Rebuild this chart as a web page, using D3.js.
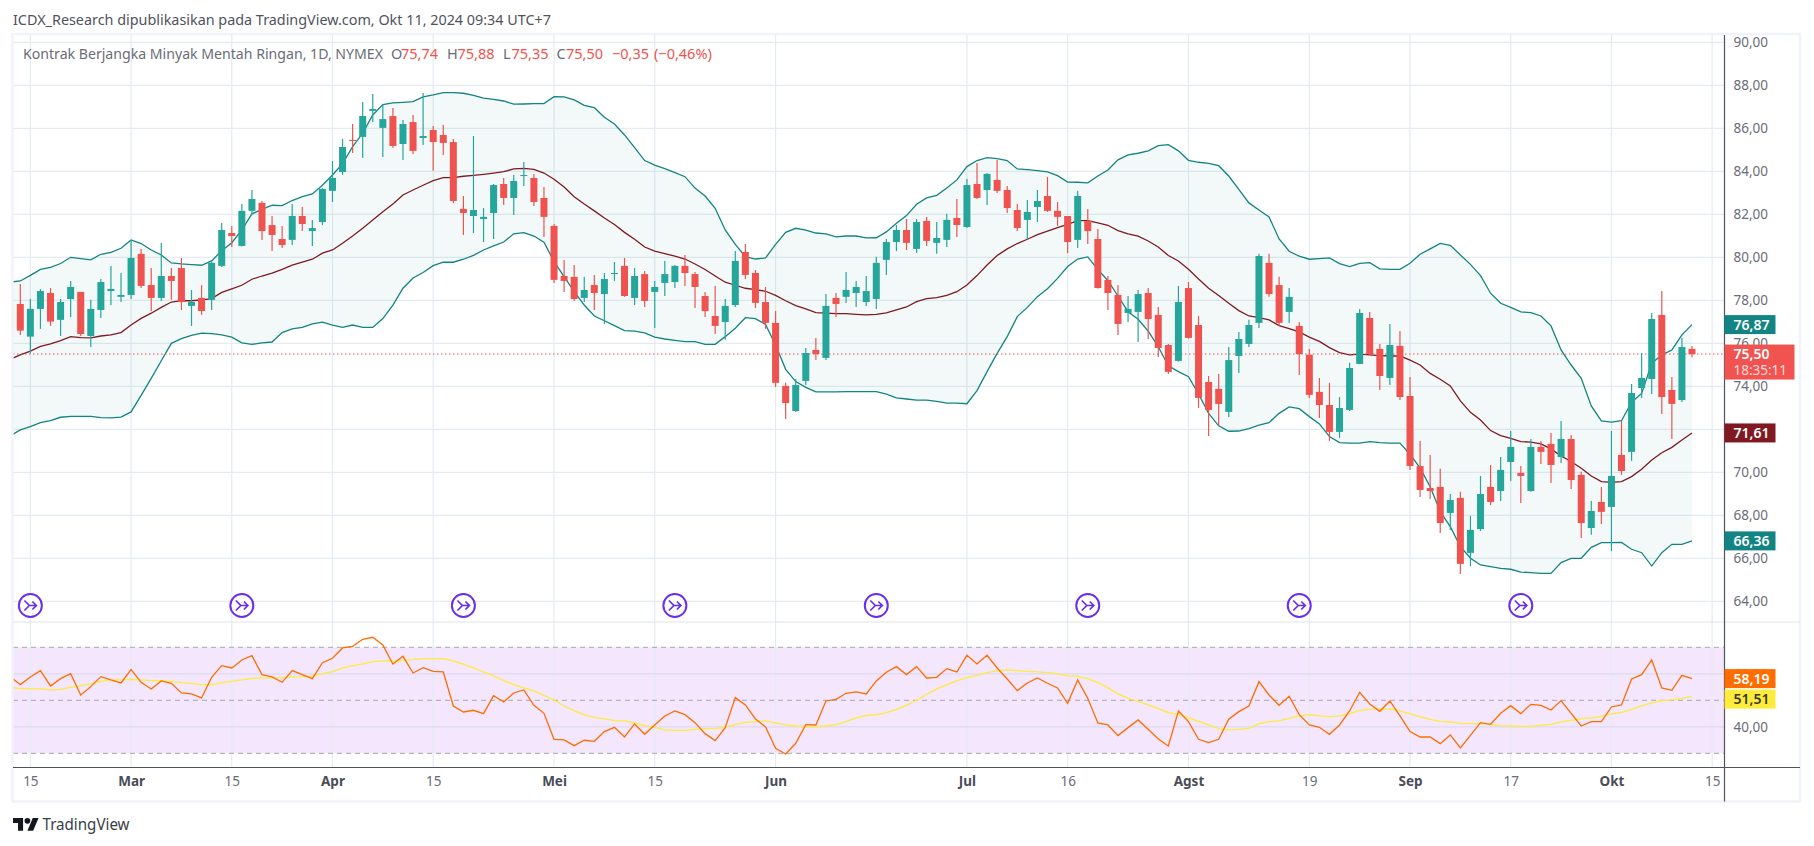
<!DOCTYPE html>
<html>
<head>
<meta charset="utf-8">
<script src="https://cdn.jsdelivr.net/npm/d3@7"></script>
<style>
  html, body { margin: 0; padding: 0; background: #fff; overflow: hidden; }
  svg { display: block; font-family: "Noto Sans", sans-serif; }
</style>
</head>
<body>
<svg id="chart" width="1814" height="846"></svg>
<script>
// daily candles, bar index 0 = 14 Feb 2024
const open = [77.83,76.31,77.60,78.34,77.09,78.06,78.39,76.34,77.55,78.43,78.16,78.25,80.16,78.71,78.11,79.13,79.50,77.74,78.11,78.02,79.60,81.13,80.53,82.16,82.53,81.50,80.85,80.81,81.92,81.22,81.64,83.09,83.97,85.46,85.60,86.81,86.02,86.57,85.27,86.29,85.55,85.92,85.69,85.36,82.25,81.92,81.78,82.06,83.41,82.76,83.78,83.69,82.76,81.46,79.13,79.09,78.11,78.71,78.29,79.22,79.60,78.11,79.22,78.39,78.81,78.85,79.60,79.22,78.20,77.27,76.99,77.78,80.25,79.27,77.92,76.95,74.02,72.85,74.25,75.69,75.32,78.11,78.16,78.34,77.92,78.06,79.88,80.71,81.27,80.39,81.69,80.67,80.81,81.83,81.41,83.41,83.13,83.60,83.13,82.20,81.74,82.34,82.85,82.16,81.92,80.81,81.69,80.85,78.95,78.25,77.41,77.46,78.34,77.32,75.92,75.18,78.57,76.85,74.20,73.88,72.81,75.41,75.97,76.95,79.74,78.71,77.46,76.81,75.47,73.74,73.13,71.88,72.90,75.04,77.18,75.74,74.39,75.88,73.55,70.29,69.27,69.32,68.11,68.81,66.25,67.36,69.32,69.13,70.48,69.97,69.13,71.18,71.32,70.71,71.55,69.88,67.41,68.62,68.39,70.81,70.95,73.92,74.34,77.32,73.83,73.36,75.74];
const high = [78.76,78.06,78.53,78.57,78.06,78.90,78.39,78.02,78.99,79.60,79.27,80.81,80.39,79.50,80.67,79.50,79.97,78.48,78.71,79.78,81.60,81.46,82.48,83.13,82.62,81.92,81.46,82.48,82.34,81.74,83.22,84.48,85.50,86.20,87.22,87.60,87.09,86.95,86.39,86.62,87.64,86.11,86.16,85.50,82.85,85.64,82.29,83.41,83.69,83.83,84.43,83.88,83.27,81.55,79.88,79.64,79.09,79.18,79.27,79.78,79.97,79.50,79.36,78.90,79.83,79.64,80.11,79.32,78.39,78.67,78.06,80.29,80.62,79.41,78.62,77.50,74.16,74.34,75.78,76.25,78.29,78.34,79.32,78.90,79.13,80.02,80.85,81.50,81.78,81.78,81.88,81.64,82.02,82.71,83.64,84.39,83.92,84.53,83.32,82.48,82.67,83.13,83.74,82.57,81.92,83.09,82.25,81.32,79.13,78.71,78.20,78.48,78.57,77.69,75.97,78.67,78.85,77.27,74.48,74.57,75.83,76.53,77.09,80.16,80.16,79.09,78.57,76.99,75.74,74.39,74.16,73.50,75.09,77.60,77.46,75.97,76.90,76.57,74.43,71.46,70.81,70.16,68.99,69.09,67.97,69.83,70.34,70.71,71.92,70.29,71.55,71.46,71.83,72.39,71.74,70.02,68.67,69.32,71.92,72.39,74.11,75.55,77.41,78.43,74.43,76.25,75.88];
const low = [76.39,75.53,76.67,76.81,76.34,77.22,76.34,75.83,77.18,77.78,77.92,78.06,78.57,77.50,77.97,78.02,77.55,76.81,77.32,77.55,79.55,80.48,80.50,81.97,80.81,80.29,80.43,80.57,81.22,80.53,81.50,82.57,83.83,84.85,84.62,86.29,84.67,85.09,84.53,84.81,85.22,84.02,84.76,82.53,81.04,81.13,80.71,80.85,82.43,81.97,83.32,82.39,80.95,78.81,78.39,77.97,77.92,77.55,76.90,78.90,78.16,77.78,77.69,76.71,78.20,78.57,78.67,77.64,77.22,76.43,76.16,77.69,78.99,77.64,76.67,73.97,72.48,72.81,74.06,75.22,75.22,77.22,77.88,77.69,77.74,77.60,79.18,80.29,80.34,80.20,80.53,80.16,80.48,80.95,81.36,82.71,82.43,82.99,82.06,81.22,80.84,81.64,82.11,81.46,80.20,80.43,80.62,78.55,77.55,76.39,76.99,76.06,76.20,75.36,74.57,75.15,76.22,72.99,71.69,72.16,72.57,74.62,75.83,76.71,78.16,76.81,76.95,74.53,73.46,72.53,71.46,71.60,72.85,75.02,75.46,73.83,74.06,73.36,70.11,68.85,68.76,67.18,67.32,65.27,65.64,67.27,68.48,68.67,69.60,68.57,69.10,70.39,69.50,70.43,69.22,66.95,67.09,67.60,66.34,69.88,70.53,73.46,73.64,72.71,71.55,73.27,75.35];
const close = [76.59,77.60,78.43,77.01,77.92,78.62,76.43,77.60,78.85,78.53,78.25,79.97,78.67,78.11,79.13,78.90,77.92,77.92,77.50,79.74,81.27,80.99,82.16,82.71,81.22,81.04,80.57,81.92,81.55,81.36,83.18,83.69,85.13,85.41,86.57,86.90,86.43,85.18,86.20,84.95,85.64,85.36,85.32,82.62,82.06,82.20,81.88,83.36,82.76,83.55,83.83,82.57,81.88,78.95,78.90,78.06,78.48,78.34,78.99,79.27,78.20,79.13,77.97,78.62,79.22,79.60,79.27,78.62,77.50,76.81,77.74,79.83,79.18,77.88,76.95,74.16,73.22,74.06,75.55,75.50,77.74,77.83,78.48,78.62,78.43,79.74,80.71,81.27,80.67,81.64,80.76,80.90,81.74,81.50,83.36,82.76,83.88,83.09,82.29,81.36,82.11,82.62,82.16,81.88,80.71,82.85,81.22,78.57,78.34,76.90,77.60,78.29,77.13,75.78,74.67,77.92,76.25,73.46,72.90,73.18,75.22,76.20,76.85,80.06,78.29,76.95,78.16,75.50,73.60,73.13,71.88,72.99,74.85,77.41,75.50,74.48,75.92,73.50,70.29,69.18,69.13,67.64,68.71,65.74,67.32,68.99,68.62,70.11,71.18,69.83,71.18,70.95,70.34,71.55,69.64,67.64,68.20,68.16,69.83,70.06,73.69,74.39,77.13,73.50,73.18,75.83,75.50];

// bollinger bands, first value belongs to the bar before index 0
const bbUpper = [78.85,78.90,79.16,79.44,79.53,79.71,80.00,79.94,79.88,80.14,80.23,80.42,80.81,80.64,80.34,80.11,79.74,79.69,79.66,79.63,79.83,80.31,80.68,81.27,82.02,82.23,82.42,82.40,82.64,82.82,82.95,83.35,83.83,84.36,85.15,85.77,86.62,87.10,87.18,87.21,87.24,87.46,87.55,87.66,87.66,87.63,87.53,87.40,87.35,87.27,87.12,87.13,87.15,87.15,87.47,87.46,87.32,87.07,86.96,86.51,86.20,85.69,85.10,84.50,84.29,84.12,83.94,83.75,83.22,82.85,82.28,81.27,80.60,80.03,79.92,79.97,80.60,81.16,81.35,81.26,81.13,81.09,80.95,80.99,80.99,80.90,80.91,81.18,81.58,81.94,82.47,82.76,82.88,83.22,83.60,84.22,84.50,84.64,84.59,84.50,84.11,84.08,84.03,83.97,83.80,83.50,83.49,83.46,83.78,84.06,84.53,84.76,84.84,84.95,85.19,85.24,84.95,84.51,84.42,84.37,84.26,83.78,83.16,82.53,82.20,81.88,80.85,80.28,80.05,79.91,79.94,79.97,79.71,79.57,79.72,79.75,79.46,79.44,79.44,79.72,80.14,80.39,80.65,80.56,80.11,79.67,79.15,78.33,77.86,77.67,77.46,77.43,77.27,76.81,75.69,74.99,74.37,73.09,72.39,72.33,72.40,73.26,73.67,75.07,75.46,75.69,76.39,76.87];
const bbBasis = [75.26,75.46,75.64,75.86,75.97,76.12,76.31,76.26,76.25,76.34,76.39,76.50,76.85,77.16,77.40,77.67,77.92,77.98,77.98,78.02,78.08,78.37,78.53,78.70,78.98,79.13,79.26,79.44,79.64,79.78,79.91,80.19,80.34,80.65,80.99,81.35,81.74,82.12,82.48,82.90,83.13,83.35,83.57,83.71,83.71,83.77,83.81,83.86,83.92,83.98,84.11,84.14,84.09,83.92,83.63,83.27,82.82,82.48,82.16,81.83,81.53,81.16,80.84,80.48,80.29,80.17,80.05,79.92,79.69,79.43,79.13,78.84,78.70,78.56,78.50,78.42,78.23,77.98,77.75,77.60,77.43,77.40,77.38,77.38,77.35,77.32,77.35,77.41,77.55,77.69,77.94,78.08,78.12,78.23,78.40,78.71,79.15,79.64,80.08,80.39,80.64,80.84,81.05,81.22,81.38,81.53,81.71,81.71,81.60,81.49,81.24,81.09,80.98,80.76,80.48,80.08,79.83,79.44,78.99,78.56,78.22,77.86,77.52,77.27,77.19,77.09,76.82,76.68,76.53,76.29,76.09,75.80,75.57,75.46,75.50,75.46,75.43,75.41,75.41,75.22,74.99,74.60,74.33,74.02,73.32,72.79,72.43,71.94,71.71,71.58,71.43,71.40,71.32,71.09,70.76,70.50,70.19,69.83,69.57,69.53,69.57,69.80,70.14,70.57,70.91,71.16,71.50,71.83];
const bbLower = [71.69,71.97,72.12,72.31,72.40,72.56,72.60,72.60,72.60,72.54,72.53,72.57,72.81,73.58,74.37,75.19,76.00,76.22,76.37,76.47,76.45,76.39,76.29,76.02,75.95,76.02,76.06,76.50,76.67,76.74,76.90,76.98,76.85,76.74,76.85,76.74,76.74,77.15,77.78,78.56,79.04,79.29,79.61,79.77,79.77,79.91,80.09,80.34,80.53,80.71,81.09,81.15,80.99,80.70,79.80,79.10,78.40,77.78,77.27,77.05,76.82,76.59,76.57,76.48,76.29,76.20,76.14,76.08,76.08,75.95,75.95,76.31,76.70,77.19,77.15,76.88,75.92,74.79,74.22,73.95,73.74,73.74,73.74,73.75,73.75,73.75,73.75,73.64,73.46,73.41,73.36,73.36,73.30,73.22,73.22,73.19,73.80,74.68,75.53,76.31,77.24,77.67,78.17,78.54,79.02,79.57,79.92,80.02,79.44,78.91,78.20,77.47,77.12,76.57,75.84,74.95,74.68,74.45,73.64,72.74,72.16,71.91,71.92,72.03,72.19,72.31,72.74,73.04,72.96,72.59,72.25,71.66,71.38,71.36,71.36,71.43,71.38,71.36,71.36,70.84,70.19,69.33,68.17,67.47,66.54,66.00,65.69,65.61,65.53,65.49,65.36,65.33,65.30,65.30,65.80,66.00,66.00,66.51,66.73,66.73,66.74,66.42,66.26,65.64,66.26,66.65,66.65,66.81];

// rsi and its moving average, same leading value as the bands
const rsiLine = [58.93,55.91,58.81,61.19,55.41,58.18,60.06,52.01,55.16,58.93,57.67,56.54,61.57,56.79,54.28,57.30,56.42,52.77,52.39,50.88,58.68,63.08,62.20,65.22,66.86,59.69,58.81,56.79,61.19,59.69,58.18,64.21,65.85,69.75,70.38,73.02,73.77,70.88,63.71,66.60,60.31,62.33,60.94,60.69,47.86,45.60,46.23,44.97,51.76,49.37,52.77,53.90,48.11,45.09,35.28,35.03,32.89,34.91,34.53,38.18,39.81,36.16,41.07,37.17,40.69,44.09,45.97,44.59,41.57,37.42,34.78,39.69,51.01,48.24,42.96,39.94,31.89,29.75,33.77,40.82,40.69,49.75,50.38,52.64,53.14,52.39,57.30,60.57,62.70,59.69,62.70,58.43,58.68,61.95,60.69,66.98,63.71,66.98,62.20,58.05,53.65,56.54,58.43,56.42,54.65,48.87,57.67,50.75,41.45,40.69,36.67,39.69,42.58,39.06,35.41,32.77,45.97,41.95,35.28,34.03,35.28,42.83,45.72,47.86,57.04,52.01,48.11,51.51,44.59,40.69,39.81,37.17,40.69,45.97,53.02,48.62,45.85,49.75,44.09,38.18,36.16,36.16,33.65,36.92,32.01,36.79,41.57,40.94,45.09,47.99,44.97,48.49,48.11,46.35,49.87,45.09,40.31,41.95,41.95,47.48,48.24,58.05,59.69,65.22,54.65,53.77,59.43,58.19];
const rsiMa = [54.78,54.53,54.28,54.28,53.90,54.15,54.91,55.53,56.16,57.17,57.67,57.67,57.92,57.67,57.42,57.42,57.17,56.67,56.42,55.91,55.91,56.67,57.17,57.67,58.30,58.43,58.43,58.55,58.81,58.93,59.18,59.94,60.82,62.20,62.96,63.71,64.59,64.84,64.84,65.09,65.35,65.72,65.72,65.72,64.84,63.58,62.33,60.69,59.18,57.55,55.91,54.65,53.52,51.89,50.13,47.86,46.10,44.47,43.58,42.96,42.33,42.20,41.45,40.44,39.81,38.81,38.68,38.68,39.06,39.31,39.43,39.81,40.94,41.70,41.95,42.20,41.45,40.69,40.31,40.06,40.06,40.31,40.82,41.95,43.33,44.21,44.59,45.35,46.60,48.11,50.00,52.26,54.28,55.79,57.30,58.55,59.43,60.44,61.19,61.45,61.19,60.94,60.69,60.44,59.94,59.18,59.06,58.18,56.67,54.78,52.39,50.75,49.62,48.24,46.98,45.35,44.72,43.33,42.08,40.69,39.18,38.81,39.06,39.43,41.19,41.95,42.20,43.21,44.09,44.47,44.09,43.84,44.09,44.97,46.23,46.60,46.73,46.73,45.97,44.84,43.84,42.83,42.08,41.82,41.32,41.19,41.19,40.82,40.44,40.31,40.19,40.19,40.57,40.94,41.82,42.45,43.08,43.33,43.96,44.84,45.47,46.60,47.86,49.00,49.87,50.13,50.75,51.51];

const priceTicks = [64,66,68,70,72,74,76,78,80,82,84,86,88,90];
const rsiGridTicks = [40,60];
const rsiDashTicks = [30,50,70];
const timeTickBars = [1,11,21,31,41,53,63,75,94,104,116,128,138,148,158,168];
const timeTickLabels = ["15","Mar","15","Apr","15","Mei","15","Jun","Jul","16","Agst","19","Sep","17","Okt","15"];
const monthLabels = ["Mar","Apr","Mei","Jun","Jul","Agst","Sep","Okt"];
const splitBars = [1,22,44,65,85,106,127,149];

const lastPrice = 75.50;
const green = "#26a69a", red = "#ef5350", bandColor = "#138484", basisColor = "#801922";
const gridColor = "#e4ebf1", textColor = "#6a6d78";

const svg = d3.select("#chart");
const paneLeft = 13, paneRight = 1724.5, paneTop = 35, mainBottom = 622, rsiBottom = 767.5, frameRight = 1800, frameBottom = 801.5;

const x = d3.scaleLinear().domain([0, 166]).range([20.3, 1692]);
const y = d3.scaleLinear().domain([64, 90]).range([601.3, 42.3]);
const rsiY = d3.scaleLinear().domain([30, 70]).range([753.3, 647.3]);
const comma = v => d3.format(".2f")(v).replace(".", ",");

svg.append("clipPath").attr("id", "mainClip").append("rect")
  .attr("x", paneLeft).attr("y", paneTop).attr("width", paneRight - paneLeft).attr("height", mainBottom - paneTop);
svg.append("clipPath").attr("id", "rsiClip").append("rect")
  .attr("x", paneLeft).attr("y", mainBottom).attr("width", paneRight - paneLeft).attr("height", rsiBottom - mainBottom);

//rsi background first so the grid sits on top of it
svg.append("rect")
  .attr("x", paneLeft).attr("width", paneRight - paneLeft)
  .attr("y", rsiY(70)).attr("height", rsiY(30) - rsiY(70))
  .attr("fill", "#f3e6fd");

//grid
const grid = svg.append("g");
grid.selectAll(".v").data(timeTickBars).join("line")
  .attr("x1", d => x(d)).attr("x2", d => x(d))
  .attr("y1", paneTop).attr("y2", rsiBottom)
  .attr("stroke", gridColor).attr("stroke-width", 1.2);
grid.selectAll(".h").data(priceTicks).join("line")
  .attr("x1", paneLeft).attr("x2", paneRight)
  .attr("y1", d => y(d)).attr("y2", d => y(d))
  .attr("stroke", gridColor).attr("stroke-width", 1.2);
grid.selectAll(".r").data(rsiGridTicks).join("line")
  .attr("x1", paneLeft).attr("x2", paneRight)
  .attr("y1", d => rsiY(d)).attr("y2", d => rsiY(d))
  .attr("stroke", "#dcd9f0").attr("stroke-width", 1.2);
grid.selectAll(".d").data(rsiDashTicks).join("line")
  .attr("x1", paneLeft).attr("x2", paneRight)
  .attr("y1", d => rsiY(d)).attr("y2", d => rsiY(d))
  .attr("stroke", "#a9a6b2").attr("stroke-width", 1).attr("stroke-dasharray", "5 4");

//bollinger area and lines
const band = svg.append("g").attr("clip-path", "url(#mainClip)");
const area = d3.area()
  .x((d, i) => x(i - 1))
  .y0((d, i) => y(bbLower[i]))
  .y1(d => y(d));
band.append("path").datum(bbUpper).attr("d", area).attr("fill", bandColor).attr("fill-opacity", 0.05);

const bandLine = d3.line().x((d, i) => x(i - 1)).y(d => y(d));
[[bbUpper, bandColor], [bbLower, bandColor], [bbBasis, basisColor]].forEach(([vals, col]) => {
  band.append("path").datum(vals).attr("d", bandLine)
    .attr("fill", "none").attr("stroke", col).attr("stroke-width", 1.3);
});

//last price line
svg.append("line")
  .attr("x1", paneLeft).attr("x2", paneRight)
  .attr("y1", y(lastPrice)).attr("y2", y(lastPrice))
  .attr("stroke", red).attr("stroke-width", 1).attr("stroke-dasharray", "1.5 2.5");

//candles
const bars = svg.append("g").selectAll("g").data(d3.range(open.length)).join("g")
  .attr("fill", i => close[i] >= open[i] ? green : red)
  .attr("stroke", i => close[i] >= open[i] ? green : red);
bars.append("line")
  .attr("x1", i => x(i)).attr("x2", i => x(i))
  .attr("y1", i => y(high[i])).attr("y2", i => y(low[i]))
  .attr("stroke-width", 1.2);
bars.append("rect")
  .attr("x", i => x(i) - 3.5).attr("width", 7)
  .attr("y", i => y(Math.max(open[i], close[i])))
  .attr("height", i => Math.max(1, Math.abs(y(open[i]) - y(close[i]))))
  .attr("stroke", "none");

//split markers
const splitG = svg.append("g").selectAll("g").data(splitBars).join("g")
  .attr("transform", d => `translate(${x(d)},605.5)`)
  .attr("fill", "none").attr("stroke", "#6a2cf0");
splitG.append("circle").attr("r", 11.5).attr("fill", "#fff").attr("stroke-width", 2);
splitG.append("path").attr("d", "M-6,-5 L-1,0 L-6,5 M-1,0 L6,0 M2,-4 L6,0 L2,4")
  .attr("stroke-width", 1.7);

//rsi lines
const rsiG = svg.append("g").attr("clip-path", "url(#rsiClip)");
const rsiPath = d3.line().x((d, i) => x(i - 1)).y(d => rsiY(d));
rsiG.append("path").datum(rsiMa).attr("d", rsiPath)
  .attr("fill", "none").attr("stroke", "#ffeb3b").attr("stroke-width", 1.3);
rsiG.append("path").datum(rsiLine).attr("d", rsiPath)
  .attr("fill", "none").attr("stroke", "#ff6d00").attr("stroke-width", 1.3);

//axes
const priceAxis = svg.append("g").attr("transform", `translate(${paneRight},0)`)
  .call(d3.axisRight(y).tickValues(priceTicks).tickFormat(comma).tickSize(0).tickPadding(9));
const rsiAxis = svg.append("g").attr("transform", `translate(${paneRight},0)`)
  .call(d3.axisRight(rsiY).tickValues(rsiGridTicks).tickFormat(comma).tickSize(0).tickPadding(9));
const timeAxis = svg.append("g").attr("transform", `translate(0,${rsiBottom})`)
  .call(d3.axisBottom(x).tickValues(timeTickBars)
    .tickFormat((d, i) => timeTickLabels[i]).tickSize(0).tickPadding(9));
[priceAxis, rsiAxis, timeAxis].forEach(a => {
  a.select(".domain").remove();
  a.selectAll("text").attr("fill", textColor)
    .style("font-family", '"Noto Sans", sans-serif').style("font-size", "13.5px");
});
timeAxis.selectAll("text")
  .style("font-weight", (d, i) => monthLabels.includes(timeTickLabels[i]) ? 700 : 400)
  .attr("fill", (d, i) => monthLabels.includes(timeTickLabels[i]) ? "#4a4d58" : textColor);

//frame and axis lines
svg.append("rect").attr("x", 12.5).attr("y", 34).attr("width", frameRight - 12.5).attr("height", frameBottom - 34)
  .attr("fill", "none").attr("stroke", "#f0f3fa").attr("stroke-width", 2.4);
svg.append("line").attr("x1", paneLeft).attr("x2", frameRight).attr("y1", mainBottom).attr("y2", mainBottom)
  .attr("stroke", "#e0e3eb").attr("stroke-width", 1.2);
svg.append("line").attr("x1", paneLeft).attr("x2", frameRight).attr("y1", rsiBottom).attr("y2", rsiBottom)
  .attr("stroke", "#50535e").attr("stroke-width", 1.2);
svg.append("line").attr("x1", paneRight).attr("x2", paneRight).attr("y1", paneTop).attr("y2", frameBottom)
  .attr("stroke", "#50535e").attr("stroke-width", 1.2);

//value tags on the price scale
function valueTag(text, cy, fill, color, w) {
  svg.append("rect").attr("x", paneRight).attr("y", cy - 9.5).attr("width", w || 51).attr("height", 19)
    .attr("fill", fill);
  svg.append("text").attr("x", paneRight + 9).attr("y", cy + 5)
    .attr("fill", color).attr("font-size", 14).attr("font-weight", 600).text(text);
}
valueTag("76,87", y(bbUpper[bbUpper.length - 1]), bandColor, "#fff");
valueTag("71,61", y(bbBasis[bbBasis.length - 1]), basisColor, "#fff");
valueTag("66,36", y(bbLower[bbLower.length - 1]), bandColor, "#fff");
const rsiTagY = rsiY(rsiLine[rsiLine.length - 1]);
valueTag("58,19", rsiTagY, "#ff6d00", "#fff");
valueTag("51,51", Math.max(rsiY(rsiMa[rsiMa.length - 1]), rsiTagY + 20.5), "#ffeb3b", "#3a3a20");

//last price tag with the countdown
const priceTag = svg.append("g");
priceTag.append("rect").attr("x", paneRight).attr("y", y(lastPrice) - 9.5).attr("width", 70).attr("height", 35)
  .attr("fill", "#f05350");
priceTag.append("text").attr("x", paneRight + 9).attr("y", y(lastPrice) + 5)
  .attr("fill", "#fff").attr("font-size", 14).attr("font-weight", 600).text(comma(lastPrice));
priceTag.append("text").attr("x", paneRight + 9).attr("y", y(lastPrice) + 21)
  .attr("fill", "#ffd9d8").attr("font-size", 13.5).text("18:35:11");

//top texts
svg.append("text").attr("x", 13).attr("y", 25).attr("fill", "#50535e").attr("font-size", 15)
  .attr("textLength", 538).attr("lengthAdjust", "spacingAndGlyphs")
  .text("ICDX_Research dipublikasikan pada TradingView.com, Okt 11, 2024 09:34 UTC+7");
svg.append("text").attr("x", 23).attr("y", 59).attr("fill", textColor).attr("font-size", 14.5)
  .attr("textLength", 360).attr("lengthAdjust", "spacingAndGlyphs")
  .text("Kontrak Berjangka Minyak Mentah Ringan, 1D, NYMEX");

const legendParts = [
  ["O", 391, textColor], ["75,74", 401, red],
  ["H", 447, textColor], ["75,88", 457.5, red],
  ["L", 503, textColor], ["75,35", 511.5, red],
  ["C", 556.5, textColor], ["75,50", 566, red],
  ["\u22120,35", 612, red], ["(\u22120,46%)", 654, red]
];
svg.append("g").selectAll("text").data(legendParts).join("text")
  .attr("x", d => d[1]).attr("y", 59).attr("fill", d => d[2]).attr("font-size", 14.5)
  .text(d => d[0]);

//tradingview mark
const logo = svg.append("g").attr("transform", "translate(13,815) scale(0.72)").attr("fill", "#131722");
logo.append("path").attr("d", "M14 22H7V11H0V4h14v18zM28 22h-8l7.5-18h8L28 22z");
logo.append("circle").attr("cx", 20).attr("cy", 8).attr("r", 4);
svg.append("text").attr("x", 42.5).attr("y", 830).attr("fill", "#3a3d48").attr("font-size", 16)
  .attr("textLength", 87).attr("lengthAdjust", "spacingAndGlyphs").text("TradingView");
</script>
</body>
</html>
